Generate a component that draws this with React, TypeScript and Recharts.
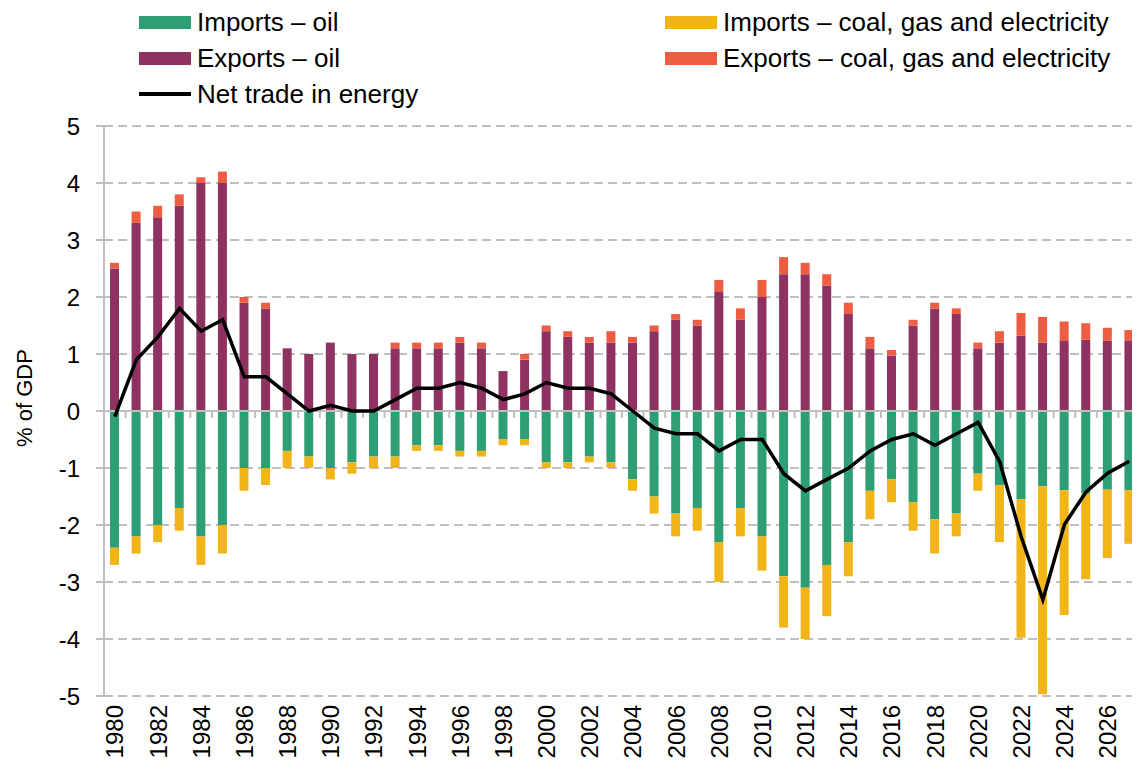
import {
  ComposedChart,
  Bar,
  Line,
  XAxis,
  YAxis,
  CartesianGrid,
  ReferenceLine,
} from "recharts";

const FONT = '"Liberation Sans", Arial, sans-serif';

const years = [
  1980, 1981, 1982, 1983, 1984, 1985, 1986, 1987, 1988, 1989,
  1990, 1991, 1992, 1993, 1994, 1995, 1996, 1997, 1998, 1999,
  2000, 2001, 2002, 2003, 2004, 2005, 2006, 2007, 2008, 2009,
  2010, 2011, 2012, 2013, 2014, 2015, 2016, 2017, 2018, 2019,
  2020, 2021, 2022, 2023, 2024, 2025, 2026, 2027,
];

const importsOil = [
  -2.4, -2.2, -2.0, -1.7, -2.2, -2.0, -1.0, -1.0, -0.7, -0.8,
  -1.0, -0.9, -0.8, -0.8, -0.6, -0.6, -0.7, -0.7, -0.5, -0.5,
  -0.9, -0.9, -0.8, -0.9, -1.2, -1.5, -1.8, -1.7, -2.3, -1.7,
  -2.2, -2.9, -3.1, -2.7, -2.3, -1.4, -1.2, -1.6, -1.9, -1.8,
  -1.1, -1.3, -1.55, -1.32, -1.39, -1.45, -1.38, -1.39,
];

const importsCoal = [
  -0.3, -0.3, -0.3, -0.4, -0.5, -0.5, -0.4, -0.3, -0.3, -0.2,
  -0.2, -0.2, -0.2, -0.2, -0.1, -0.1, -0.1, -0.1, -0.1, -0.1,
  -0.1, -0.1, -0.1, -0.1, -0.2, -0.3, -0.4, -0.4, -0.7, -0.5,
  -0.6, -0.9, -0.9, -0.9, -0.6, -0.5, -0.4, -0.5, -0.6, -0.4,
  -0.3, -1.0, -2.43, -3.65, -2.19, -1.5, -1.2, -0.94,
];

const exportsOil = [
  2.5, 3.3, 3.4, 3.6, 4.0, 4.0, 1.9, 1.8, 1.1, 1.0,
  1.2, 1.0, 1.0, 1.1, 1.1, 1.1, 1.2, 1.1, 0.7, 0.9,
  1.4, 1.3, 1.2, 1.2, 1.2, 1.4, 1.6, 1.5, 2.1, 1.6,
  2.0, 2.4, 2.4, 2.2, 1.7, 1.1, 0.97, 1.5, 1.8, 1.7,
  1.1, 1.2, 1.32, 1.2, 1.24, 1.25, 1.23, 1.24,
];

const exportsCoal = [
  0.1, 0.2, 0.2, 0.2, 0.1, 0.2, 0.1, 0.1, 0, 0,
  0, 0, 0, 0.1, 0.1, 0.1, 0.1, 0.1, 0, 0.1,
  0.1, 0.1, 0.1, 0.2, 0.1, 0.1, 0.1, 0.1, 0.2, 0.2,
  0.3, 0.3, 0.2, 0.2, 0.2, 0.2, 0.1, 0.1, 0.1, 0.1,
  0.1, 0.2, 0.4, 0.45, 0.33, 0.29, 0.23, 0.18,
];

const netTrade = [
  -0.1, 0.9, 1.3, 1.8, 1.4, 1.6, 0.6, 0.6, 0.3, 0.0,
  0.1, 0.0, 0.0, 0.2, 0.4, 0.4, 0.5, 0.4, 0.2, 0.3,
  0.5, 0.4, 0.4, 0.3, 0.0, -0.3, -0.4, -0.4, -0.7, -0.5,
  -0.5, -1.1, -1.4, -1.2, -1.0, -0.7, -0.5, -0.4, -0.6, -0.4,
  -0.2, -0.89, -2.21, -3.31, -1.99, -1.42, -1.09, -0.88,
];

const yTicks = [-5, -4, -3, -2, -1, 0, 1, 2, 3, 4, 5];

const data = years.map((year, i) => ({
  year: String(year),
  importsOil: importsOil[i],
  importsCoal: importsCoal[i],
  exportsOil: exportsOil[i],
  exportsCoal: exportsCoal[i],
  net: netTrade[i],
}));

const GREEN = "#2e9e75";
const YELLOW = "#f2b519";
const PURPLE = "#8e3361";
const ORANGE = "#ee5d42";
const GREY = "#bfbfbf";

const YearTick = ({ x, y, payload }: any) => (
  <text
    x={x}
    y={y}
    transform={`rotate(-90 ${x} ${y})`}
    textAnchor="end"
    dy="0.36em"
    fontSize={24}
    fontFamily={FONT}
    fill="#000"
  >
    {payload.value}
  </text>
);

// zero line with small tick marks at each category boundary
const ZeroLine = (props: any) => {
  const { x1, x2, y1 } = props;
  const step = (x2 - x1) / years.length;
  return (
    <g>
      <line x1={x1} x2={x2} y1={y1} y2={y1} stroke={GREY} strokeWidth={2} />
      {[...years, 0].map((_, i) => (
        <line
          key={i}
          x1={x1 + i * step}
          x2={x1 + i * step}
          y1={y1}
          y2={y1 + 7}
          stroke={GREY}
          strokeWidth={2}
        />
      ))}
    </g>
  );
};

const YLabel = ({ viewBox }: any) => {
  const cx = 16;
  const cy = viewBox.y + viewBox.height / 2 - 13;
  return (
    <text
      x={cx}
      y={cy}
      transform={`rotate(-90 ${cx} ${cy})`}
      textAnchor="middle"
      dominantBaseline="central"
      fontSize={22}
      fontFamily={FONT}
      fill="#000"
    >
      % of GDP
    </text>
  );
};

const legendItems = [
  { label: "Imports – oil", color: GREEN, kind: "box", x: 131, y: 14 },
  { label: "Imports – coal, gas and electricity", color: YELLOW, kind: "box", x: 657, y: 14 },
  { label: "Exports – oil", color: PURPLE, kind: "box", x: 131, y: 50 },
  { label: "Exports – coal, gas and electricity", color: ORANGE, kind: "box", x: 657, y: 50 },
  { label: "Net trade in energy", color: "#000", kind: "line", x: 131, y: 86 },
];

const ChartLegend = () => (
  <>
    {legendItems.map((it) => (
      <div
        key={it.label}
        style={{
          position: "absolute",
          left: it.x,
          top: it.y - 16,
          height: 32,
          display: "flex",
          alignItems: "center",
          fontSize: 26,
          whiteSpace: "nowrap",
          color: "#000",
        }}
      >
        <span
          style={{
            display: "inline-block",
            width: 52,
            height: it.kind === "box" ? 13 : 4,
            background: it.color,
            marginRight: 6,
          }}
        />
        <span>{it.label}</span>
      </div>
    ))}
  </>
);

export default function App() {
  return (
    <div style={{ position: "relative", width: 1132, height: 764, fontFamily: FONT }}>
      <ChartLegend />
      <ComposedChart
        width={1132}
        height={764}
        data={data}
        stackOffset="sign"
        margin={{ top: 118, right: 0, left: 0, bottom: 0 }}
      >
        <CartesianGrid vertical={false} stroke={GREY} strokeWidth={2} strokeDasharray="9 5" />
        <XAxis
          dataKey="year"
          interval={1}
          tickLine={false}
          axisLine={false}
          tickSize={0}
          tickMargin={9}
          height={76}
          tick={<YearTick />}
        />
        <YAxis
          domain={[-5, 5]}
          ticks={yTicks}
          width={96}
          axisLine={{ stroke: GREY, strokeWidth: 2 }}
          tickLine={{ stroke: GREY, strokeWidth: 2 }}
          tickSize={8}
          tickMargin={16}
          tick={{ fontSize: 24, fill: "#000", fontFamily: FONT }}
          label={<YLabel />}
        />
        <Bar dataKey="importsOil" stackId="a" fill={GREEN} barSize={9} isAnimationActive={false} />
        <Bar dataKey="importsCoal" stackId="a" fill={YELLOW} barSize={9} isAnimationActive={false} />
        <Bar dataKey="exportsOil" stackId="a" fill={PURPLE} barSize={9} isAnimationActive={false} />
        <Bar dataKey="exportsCoal" stackId="a" fill={ORANGE} barSize={9} isAnimationActive={false} />
        <ReferenceLine y={0} shape={<ZeroLine />} />
        <Line
          dataKey="net"
          type="linear"
          stroke="#000"
          strokeWidth={3.5}
          dot={false}
          isAnimationActive={false}
        />
      </ComposedChart>
    </div>
  );
}
